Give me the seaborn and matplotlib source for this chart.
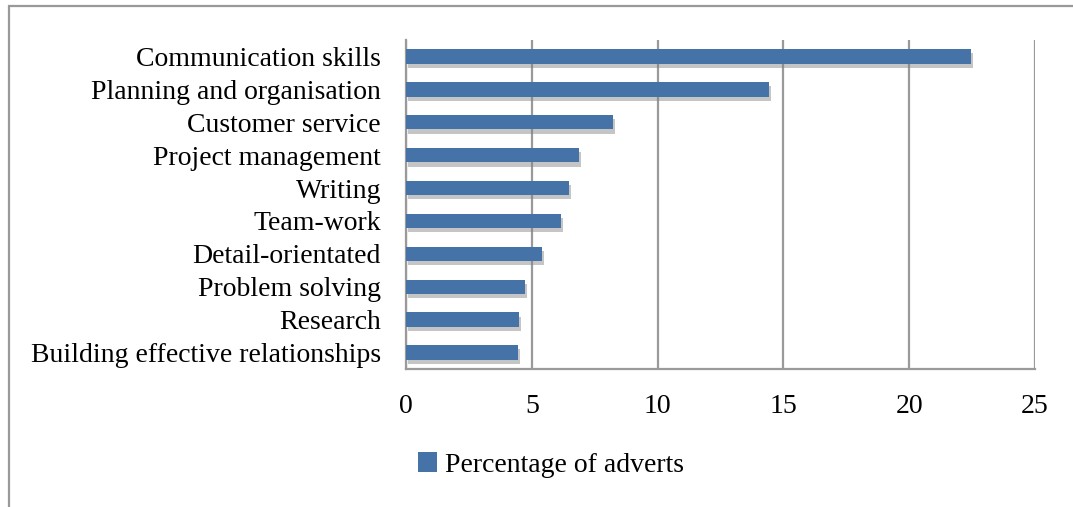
import matplotlib
matplotlib.use("Agg")
import matplotlib.pyplot as plt
import matplotlib.patheffects as pe
from matplotlib.patches import Rectangle, Patch
import seaborn as sns
import pandas as pd

skills = ["Communication skills", "Planning and organisation", "Customer service",
          "Project management", "Writing", "Team-work", "Detail-orientated",
          "Problem solving", "Research", "Building effective relationships"]
percent = [22.45, 14.44, 8.24, 6.87, 6.46, 6.15, 5.40, 4.71, 4.48, 4.45]
xticks = [0, 5, 10, 15, 20, 25]
series_name = "Percentage of adverts"

df = pd.DataFrame({"skill": skills, "pct": percent})

sns.set_theme(style="white")
plt.rcParams['font.family'] = ['Liberation Serif', 'DejaVu Serif']
plt.rcParams['text.color'] = 'black'

fig = plt.figure(figsize=(10.73, 5.07), dpi=100)
ax = fig.add_axes([406/1073, 1 - 369/507, (1035 - 406)/1073, (369 - 40)/507])

bar_color = "#4572A7"
sns.barplot(data=df, y="skill", x="pct", color=bar_color, width=0.44,
            saturation=1, ax=ax, zorder=3)
for p in ax.patches:
    p.set_edgecolor("none")
    p.set_path_effects([pe.SimplePatchShadow(offset=(1.5, -3), shadow_rgbFace="#808080", alpha=0.45),
                        pe.Normal()])

ax.set_xlim(0, 25)
ax.set_ylim(len(skills) - 0.5, -0.5)
ax.set_xticks(xticks)
ax.set_xticklabels([str(t) for t in xticks], fontsize=20)
ax.set_yticks(range(len(skills)))
ax.set_yticklabels(skills, fontsize=20)
ax.set_xlabel("")
ax.set_ylabel("")

grid_c = "#9a9a9a"
ax.xaxis.grid(True, color=grid_c, linewidth=1.6, zorder=0)
ax.set_axisbelow(True)
for s in ["top", "right"]:
    ax.spines[s].set_visible(False)
for s in ["left", "bottom"]:
    ax.spines[s].set_color(grid_c)
    ax.spines[s].set_linewidth(1.6)

ax.set_yticks([i - 0.5 for i in range(len(skills) + 1)], minor=True)
ax.tick_params(axis="y", which="major", length=0, pad=18)
ax.tick_params(axis="y", which="minor", length=7, width=1.6, color=grid_c)
ax.tick_params(axis="x", which="major", length=7, width=1.6, color=grid_c, pad=11)
for lbl in ax.get_xticklabels() + ax.get_yticklabels():
    lbl.set_color("black")

handles = [Patch(facecolor=bar_color, edgecolor="none", label=series_name)]
leg = fig.legend(handles=handles, loc="center", bbox_to_anchor=(551/1073, 1 - 465/507),
                 frameon=False, fontsize=20, handlelength=0.7, handleheight=0.7,
                 handletextpad=0.3)
for t in leg.get_texts():
    t.set_color("black")

fig.patches.append(Rectangle((9/1073, -0.1), 1.2, 1 - 6/507 + 0.1, transform=fig.transFigure,
                             fill=False, edgecolor="#999999", linewidth=1.6))

fig.savefig("out.png", dpi=100)
